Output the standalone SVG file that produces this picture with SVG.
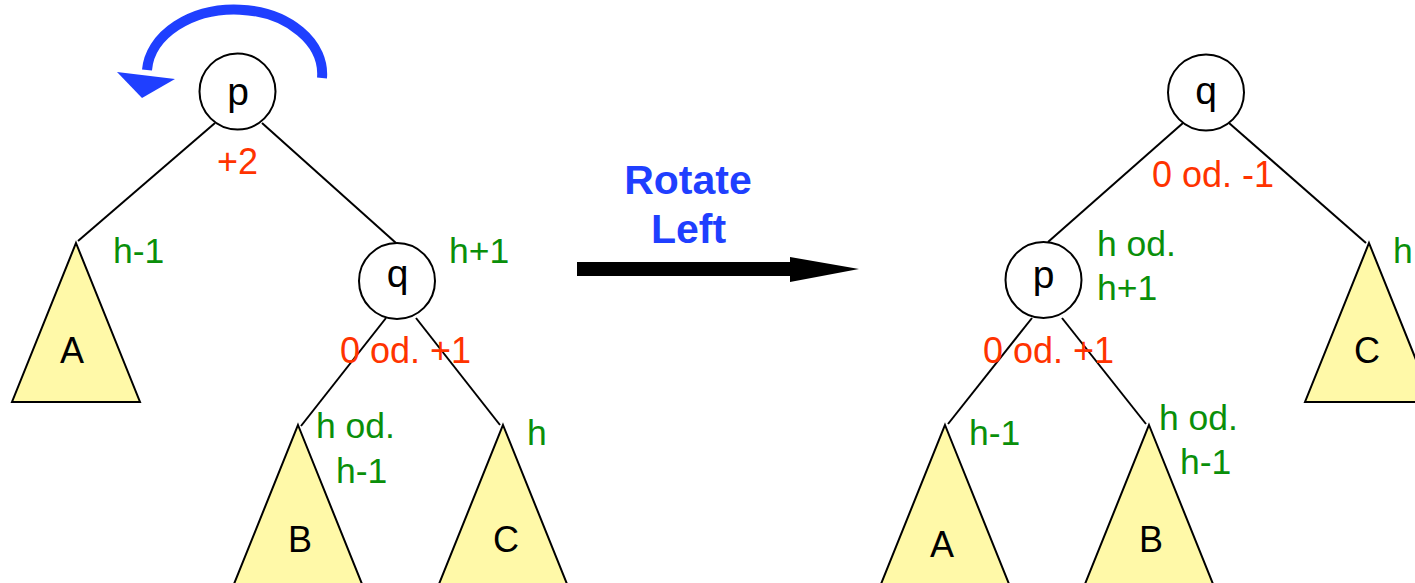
<svg xmlns="http://www.w3.org/2000/svg" width="1415" height="583" viewBox="0 0 1415 583">
<defs>
<style>
.edge{stroke:#000;stroke-width:2;fill:none}
.node{fill:#fff;stroke:#000;stroke-width:2}
.tri{fill:#fff9a8;stroke:#000;stroke-width:2;stroke-linejoin:miter}
.nl{font-family:"Liberation Sans",Arial,sans-serif;font-size:39px;fill:#000;text-anchor:middle}
.tl{font-family:"Liberation Sans",Arial,sans-serif;font-size:36px;fill:#000;text-anchor:middle}
.g{font-family:"Liberation Sans",Arial,sans-serif;font-size:35.5px;fill:#0a8f0a}
.r{font-family:"Liberation Sans",Arial,sans-serif;font-size:36px;fill:#ff3300}
.b{font-family:"Liberation Sans",Arial,sans-serif;font-size:41px;font-weight:bold;fill:#1f3fff;text-anchor:middle}
</style>
</defs>
<rect width="1415" height="583" fill="#fff"/>

<g id="connectors">
<line class="edge" x1="215" y1="123" x2="78" y2="241"/>
<line class="edge" x1="262" y1="123" x2="396" y2="243"/>
<line class="edge" x1="386" y1="318" x2="301" y2="426"/>
<line class="edge" x1="416" y1="318" x2="500" y2="425"/>
<line class="edge" x1="1183" y1="123" x2="1048" y2="242"/>
<line class="edge" x1="1229" y1="123" x2="1366" y2="243"/>
<line class="edge" x1="1032" y1="318" x2="948" y2="424"/>
<line class="edge" x1="1062" y1="318" x2="1146" y2="424"/>
</g>

<g id="rotation-arc">
<path d="M322 78 A87 64 0 0 0 147 70" fill="none" stroke="#1f3fff" stroke-width="10"/>
<polygon points="117,72 175,79 142,98" fill="#1f3fff"/>
</g>

<g id="left-p">
<circle class="node" cx="237.5" cy="91.5" r="38"/>
<text class="nl" x="238" y="105">p</text>
</g>
<g id="left-q">
<circle class="node" cx="397" cy="281" r="38"/>
<text class="nl" x="397.5" y="287">q</text>
</g>
<g id="left-A">
<polygon class="tri" points="76,243 140,402 12,402"/>
<text class="tl" x="72" y="363">A</text>
</g>
<g id="left-B">
<polygon class="tri" points="298,425 362,584 234,584"/>
<text class="tl" x="300" y="552">B</text>
</g>
<g id="left-C">
<polygon class="tri" points="503,425 567,584 439,584"/>
<text class="tl" x="506" y="552">C</text>
</g>

<g id="left-labels">
<text class="r" x="217" y="174">+2</text>
<text class="g" x="113" y="263">h-1</text>
<text class="g" x="449" y="263">h+1</text>
<text class="r" x="340" y="363">0 od. +1</text>
<text class="g" x="316" y="438">h od.</text>
<text class="g" x="336" y="483">h-1</text>
<text class="g" x="527" y="445">h</text>
</g>

<g id="rotate-arrow">
<text class="b" x="688" y="194">Rotate</text>
<text class="b" x="688.5" y="243">Left</text>
<rect x="577" y="262" width="214" height="14" fill="#000"/>
<polygon points="790,257 859,269 790,282" fill="#000"/>
</g>

<g id="right-q">
<circle class="node" cx="1206" cy="92.5" r="38"/>
<text class="nl" x="1206" y="104">q</text>
</g>
<g id="right-p">
<circle class="node" cx="1043.5" cy="280" r="38"/>
<text class="nl" x="1043.5" y="288">p</text>
</g>
<g id="right-A">
<polygon class="tri" points="945,425 1009,584 881,584"/>
<text class="tl" x="942" y="557">A</text>
</g>
<g id="right-B">
<polygon class="tri" points="1149,425 1213,584 1085,584"/>
<text class="tl" x="1151" y="552">B</text>
</g>
<g id="right-C">
<polygon class="tri" points="1369,243 1433,402 1305,402"/>
<text class="tl" x="1367" y="363">C</text>
</g>

<g id="right-labels">
<text class="r" x="1152" y="187">0 od. -1</text>
<text class="g" x="1097" y="256">h od.</text>
<text class="g" x="1097" y="300">h+1</text>
<text class="r" x="983" y="363">0 od. +1</text>
<text class="g" x="969" y="445">h-1</text>
<text class="g" x="1159" y="430">h od.</text>
<text class="g" x="1180" y="474">h-1</text>
<text class="g" x="1393" y="263">h</text>
</g>
</svg>
